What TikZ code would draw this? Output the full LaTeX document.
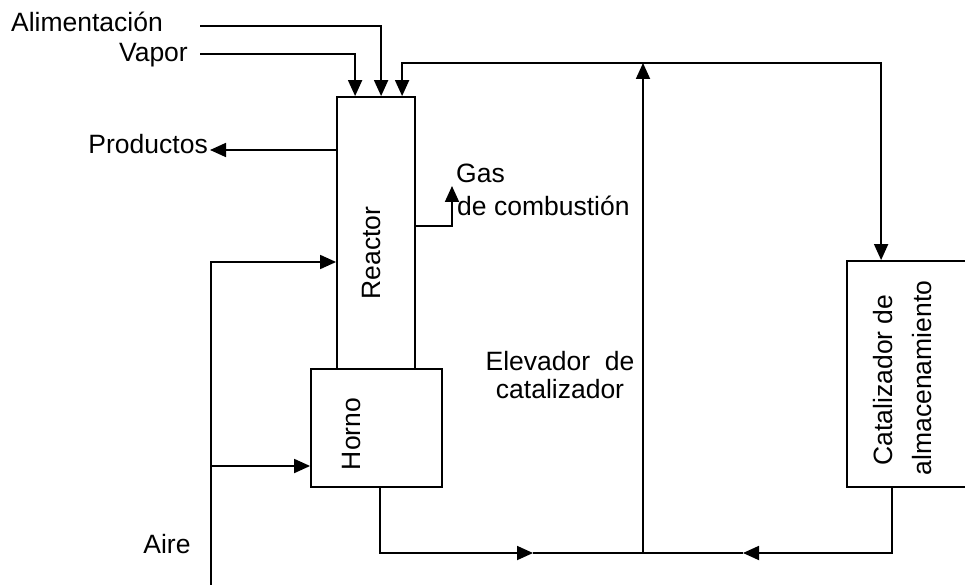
\documentclass[tikz,border=0pt]{standalone}
\usepackage{fontspec}
\setmainfont{Liberation Sans}
\usepackage{tikz}
\usetikzlibrary{positioning,arrows.meta,calc}
\tikzset{
  unit/.style={draw,line width=1.8pt,inner sep=0pt},
  pipe/.style={line width=1.8pt},
  flow/.style={pipe,-{Triangle[length=16pt,width=14pt]}},
  lbl/.style={inner sep=0pt,font=\fontsize{26.5}{32}\selectfont}
}

\begin{document}
\begin{tikzpicture}[x=1pt,y=-1pt]
  \useasboundingbox (0,0) rectangle (965,585);
  % equipos
  \node[unit,minimum width=78pt,minimum height=272pt] (reactor) at (376,233) {};
  \node[unit,minimum width=131pt,minimum height=118pt] (horno) at (376.5,428) {};
  \node[unit,minimum width=140pt,minimum height=226pt] (almac) at (917,374) {};
  \node[lbl,rotate=90] (reactorlbl) at (372,253) {Reactor};
  \node[lbl,rotate=90] (hornolbl) at (352,434) {Horno};
  \node[lbl,rotate=90] (almaclbla) at (883,380) {Catalizador de};
  \node[lbl,rotate=90] (almaclblb) at (922,378) {almacenamiento};
  % textos
  \node[lbl,anchor=base east] (alim) at (163,32) {Alimentación};
  \node[lbl,anchor=base east] (vapor) at (188,62) {Vapor};
  \node[lbl,anchor=base east] (prod) at (208,154) {Productos};
  \node[lbl,anchor=base west] (gas) at (456,183) {Gas};
  \node[lbl,anchor=base west] (comb) at (457,215) {de combustión};
  \node[lbl,anchor=base] (elev) at (560,370) {Elevador\ \ de};
  \node[lbl,anchor=base] (elevb) at (560,398) {catalizador};
  \node[lbl,anchor=base] (aire) at (167,553) {Aire};
  % puntos libres
  \coordinate (alimin) at (200,26);
  \coordinate (vapin) at (200,54);
  \coordinate (retop) at (643,63);
  \coordinate (join) at (643,553);
  \coordinate (prodtip) at (210,150);
  \coordinate (gastip) at (452,186);
  \coordinate (gasout) at (415,226);
  \coordinate (airin) at (211,585);
  \coordinate (airup) at (211,262);
  \coordinate (airlow) at (211,466);
  \coordinate (midL) at (533,553);
  \coordinate (midR) at (743,553);
  % corrientes
  \draw[flow] (alimin) -| ([xshift=45pt]reactor.north west);
  \draw[flow] (vapin) -| ([xshift=19pt]reactor.north west);
  \draw[flow] (retop) -| ([xshift=66pt]reactor.north west);
  \draw[flow] (retop) -| ([xshift=35pt]almac.north west);
  \draw[flow] (join) -- (retop);
  \draw[flow] (reactor.west |- prodtip) -- (prodtip);
  \draw[flow] (reactor.east |- gasout) -| (gastip);
  \draw[flow] (airin) |- (reactor.west |- airup);
  \draw[flow] (airlow) -- (horno.west |- airlow);
  \draw[flow] ([xshift=70pt]horno.south west) |- (midL);
  \draw[pipe] (midL) -- (join);
  \draw[flow] ([xshift=46pt]almac.south west) |- (midR);
  \draw[pipe] (midR) -- (join);
\end{tikzpicture}
\end{document}
